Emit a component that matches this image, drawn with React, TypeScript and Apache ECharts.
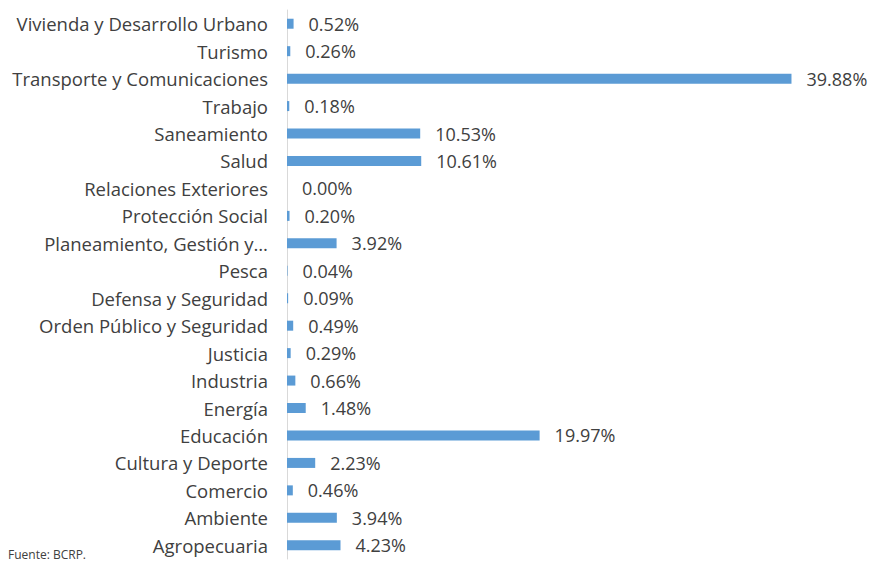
import React, { useEffect, useRef } from "react";
import * as echarts from "echarts";

const categories = [
  "Agropecuaria",
  "Ambiente",
  "Comercio",
  "Cultura y Deporte",
  "Educación",
  "Energía",
  "Industria",
  "Justicia",
  "Orden Público y Seguridad",
  "Defensa y Seguridad",
  "Pesca",
  "Planeamiento, Gestión y…",
  "Protección Social",
  "Relaciones Exteriores",
  "Salud",
  "Saneamiento",
  "Trabajo",
  "Transporte y Comunicaciones",
  "Turismo",
  "Vivienda y Desarrollo Urbano",
];

const values = [
  4.23, 3.94, 0.46, 2.23, 19.97, 1.48, 0.66, 0.29, 0.49, 0.09, 0.04, 3.92, 0.2,
  0.0, 10.61, 10.53, 0.18, 39.88, 0.26, 0.52,
];

const sourceNote = "Fuente: BCRP.";

export default function App() {
  const ref = useRef<HTMLDivElement>(null);
  useEffect(() => {
    if (!ref.current) return;
    const chart = echarts.init(ref.current, null, { renderer: "svg" });
    const font = "'Open Sans', sans-serif";
    chart.setOption({
      animation: false,
      backgroundColor: "#ffffff",
      grid: { left: 287, right: 84, top: 10, bottom: 4, containLabel: false },
      xAxis: {
        type: "value",
        min: 0,
        max: 40,
        show: false,
      },
      yAxis: {
        type: "category",
        data: categories,
        axisLine: { show: true, lineStyle: { color: "#d9d9d9", width: 1 } },
        axisTick: { show: false },
        axisLabel: {
          color: "#404040",
          fontSize: 18.5,
          fontFamily: font,
          margin: 19,
        },
        splitLine: { show: false },
      },
      series: [
        {
          type: "bar",
          data: values,
          barWidth: 10,
          itemStyle: { color: "#5b9bd5" },
          label: {
            show: true,
            position: "right",
            distance: 15,
            color: "#404040",
            fontSize: 18,
            fontFamily: font,
            formatter: (p: any) => Number(p.value).toFixed(2) + "%",
          },
        },
      ],
      graphic: [
        {
          type: "text",
          left: 8,
          top: 548,
          style: {
            text: sourceNote,
            fill: "#404040",
            fontSize: 12,
            fontFamily: font,
          },
        },
      ],
    });
    return () => chart.dispose();
  }, []);
  return (
    <div
      ref={ref}
      style={{ position: "fixed", left: 0, top: 0, width: 877, height: 563 }}
    />
  );
}
